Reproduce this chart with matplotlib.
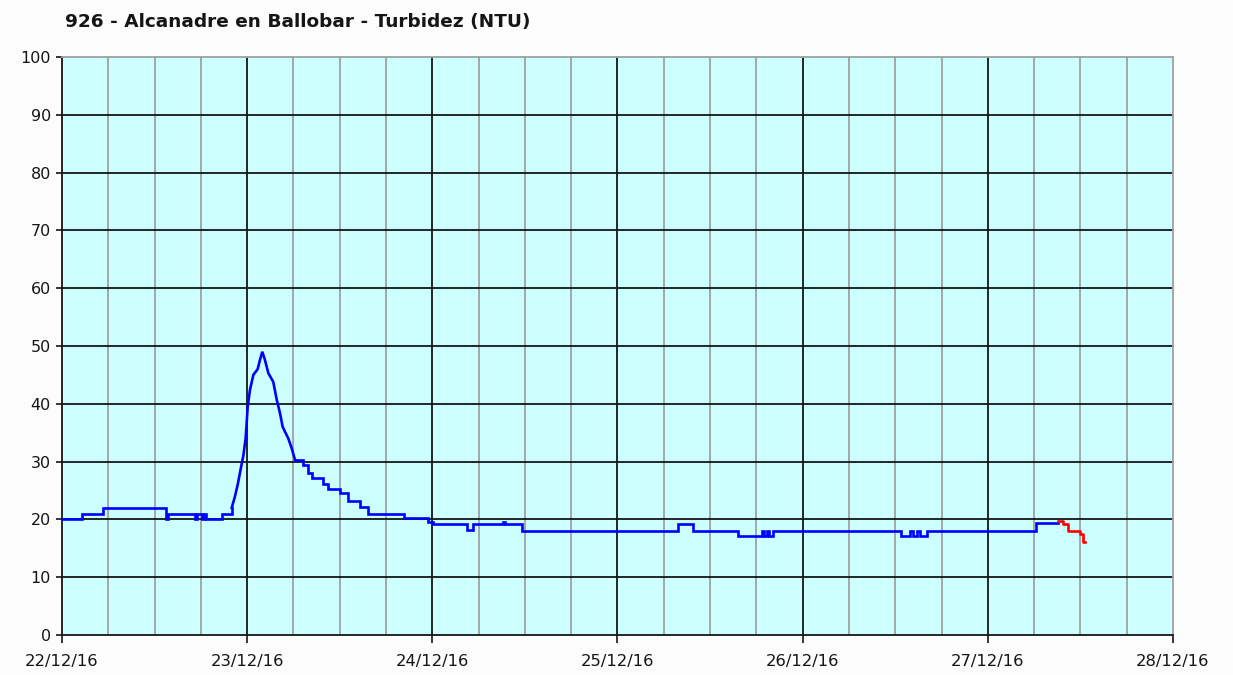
import datetime as dt

import matplotlib
matplotlib.use('Agg')
import matplotlib.pyplot as plt

# Turbidity readings: hours since 22/12/16 00:00 and NTU value
START = dt.datetime(2016, 12, 22)

blue_hours = [0.0, 2.55, 5.27, 13.48, 13.74, 17.24, 17.5, 18.1, 18.4, 18.66,
              20.7, 22.0, 22.42, 22.77, 23.2, 23.5, 23.8, 24.07, 24.36, 24.8,
              25.36, 25.66, 25.96, 26.3, 26.74, 27.38, 27.83, 28.25, 28.6, 29.33,
              29.77, 30.2, 31.27, 31.92, 32.36, 33.86, 34.51, 36.03, 37.1, 38.62,
              39.7, 44.36, 47.47, 48.12, 52.45, 53.3, 57.15, 57.4, 59.57, 79.87,
              81.74, 87.65, 90.68, 90.98, 91.37, 91.6, 92.2, 108.8, 109.9, 110.3,
              110.8, 111.2, 112.1, 126.3, 129.1]
blue_ntu = [20, 21, 22, 20, 21, 20, 21, 20, 21, 20,
            21, 22, 24, 26, 29, 31, 34, 39.5, 42.4, 45,
            46, 47.6, 49, 47.6, 45.3, 43.8, 40.7, 38.4, 36, 34,
            32.3, 30.3, 29.4, 28, 27.2, 26.2, 25.2, 24.5, 23.1, 22.2,
            21, 20.2, 19.6, 19.2, 18.2, 19.2, 19.6, 19.2, 18, 19.2,
            18, 17.2, 18, 17.2, 18, 17.2, 18, 17.2, 18, 17.2,
            18, 17.2, 18, 19.4, 19.4]

# last values (provisional), drawn in red
red_hours = [129.1, 129.7, 130.4, 131.9, 132.3, 132.6]
red_ntu = [19.7, 19.2, 18, 17.5, 16, 16]

day_labels = ['22/12/16', '23/12/16', '24/12/16', '25/12/16',
              '26/12/16', '27/12/16', '28/12/16']

# the flood peak is drawn as a continuous line, the rest as steps
PEAK_FROM, PEAK_TO = 22.0, 30.2


def to_dates(hours):
    return [START + dt.timedelta(hours=h) for h in hours]


fig = plt.figure(figsize=(12.33, 6.75), dpi=100, facecolor='#FCFCFC')
ax = fig.add_axes([0.0503, 0.0593, 0.901, 0.8563])
ax.set_facecolor('#CCFFFF')

days = [START + dt.timedelta(days=i) for i in range(len(day_labels))]
quarters = [START + dt.timedelta(hours=6 * i) for i in range(25) if i % 4]

# grid
for q in quarters:
    ax.axvline(q, color='#A0A0A0', linewidth=1.3, zorder=1)
for d in days[1:-1]:
    ax.axvline(d, color='#151515', linewidth=1.3, zorder=1)
for v in range(10, 100, 10):
    ax.axhline(v, color='#151515', linewidth=1.3, zorder=1)

i0 = blue_hours.index(PEAK_FROM)
i1 = blue_hours.index(PEAK_TO)
line_kw = dict(color='#0000FF', linewidth=1.9, zorder=3, solid_joinstyle='miter')
ax.plot(to_dates(blue_hours[:i0 + 1]), blue_ntu[:i0 + 1],
        drawstyle='steps-post', **line_kw)
ax.plot(to_dates(blue_hours[i0:i1 + 1]), blue_ntu[i0:i1 + 1], **line_kw)
ax.plot(to_dates(blue_hours[i1:]), blue_ntu[i1:],
        drawstyle='steps-post', **line_kw)
ax.plot(to_dates(red_hours), red_ntu, drawstyle='steps-post',
        color='#FF0000', linewidth=1.9, zorder=3)

ax.set_xlim(days[0], days[-1])
ax.set_ylim(0, 100)
ax.set_xticks(days)
ax.set_xticklabels(day_labels)
ax.set_yticks(range(0, 101, 10))

ax.tick_params(axis='x', direction='out', length=6, width=1.2, pad=8,
               labelsize=11.8, colors='#151515')
ax.tick_params(axis='y', direction='out', length=4, width=1.2, pad=4,
               labelsize=11.5, colors='#151515')

for side in ['left', 'bottom']:
    ax.spines[side].set_color('#151515')
    ax.spines[side].set_linewidth(1.3)
for side in ['top', 'right']:
    ax.spines[side].set_color('#A0A0A0')
    ax.spines[side].set_linewidth(1.3)

fig.text(0.053, 0.967, '926 - Alcanadre en Ballobar - Turbidez (NTU)',
         fontsize=13.3, fontweight='bold', color='#151515', va='center')

fig.savefig('out.png', dpi=100, facecolor=fig.get_facecolor())
